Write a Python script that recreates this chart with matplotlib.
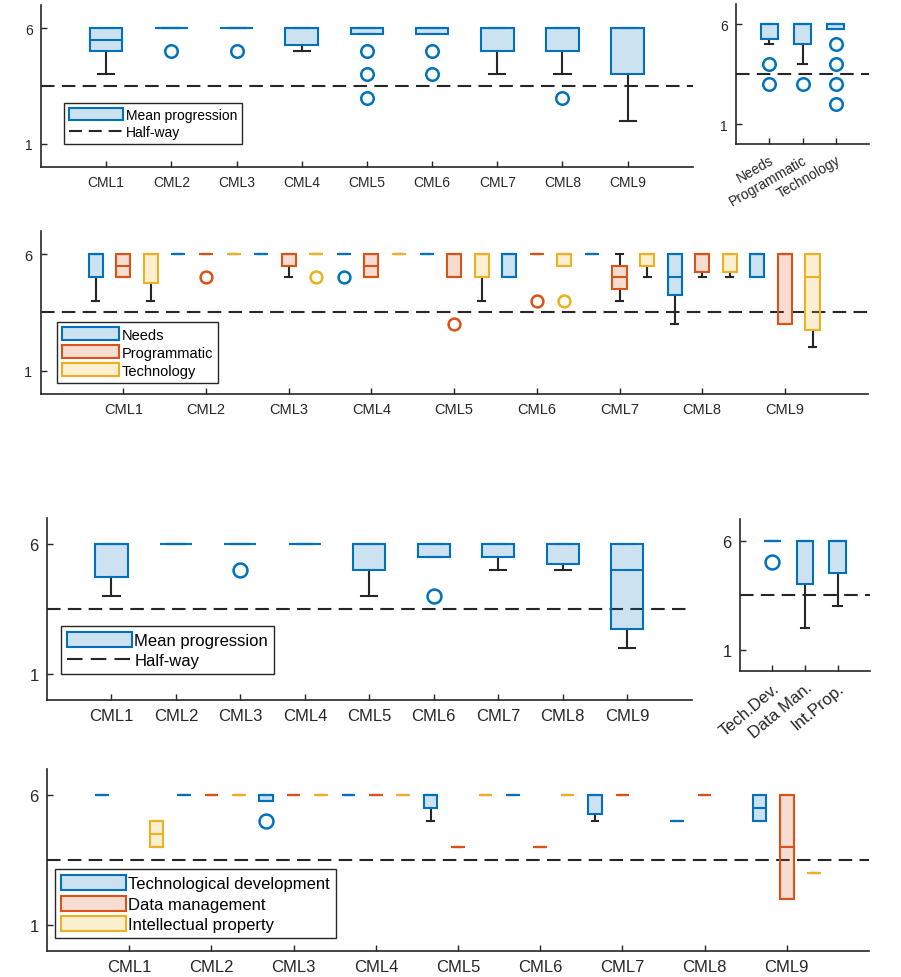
import matplotlib.pyplot as plt
from matplotlib.patches import Patch
from matplotlib.lines import Line2D
from matplotlib.colors import to_rgba

plt.rcParams['font.family'] = ['Liberation Sans', 'DejaVu Sans']

BLUE = '#0072BD'
RED = '#D95319'
YELLOW = '#EDB120'
INK = '#262626'

cml_labels = ['CML1', 'CML2', 'CML3', 'CML4', 'CML5', 'CML6', 'CML7', 'CML8', 'CML9']
area_labels_1 = ['Needs', 'Programmatic', 'Technology']
area_labels_2 = ['Tech.Dev.', 'Data Man.', 'Int.Prop.']
half_way = 3.5

# each box: (whisker low, q1, median, q3, whisker high, outliers); None = no box
mean_prog_1 = [
    (4, 5, 5.5, 6, 6, []),
    (6, 6, 6, 6, 6, [5]),
    (6, 6, 6, 6, 6, [5]),
    (5, 5.25, 6, 6, 6, []),
    (5.75, 5.75, 6, 6, 6, [5, 4, 3]),
    (5.75, 5.75, 6, 6, 6, [5, 4]),
    (4, 5, 6, 6, 6, []),
    (4, 5, 6, 6, 6, [3]),
    (2, 4, 6, 6, 6, []),
]
area_prog_1 = [
    (5, 5.25, 6, 6, 6, [4, 3]),
    (4, 5, 6, 6, 6, [3]),
    (5.75, 5.75, 6, 6, 6, [5, 4, 3, 2]),
]
needs = [
    (4, 5, 6, 6, 6, []),
    (6, 6, 6, 6, 6, []),
    (6, 6, 6, 6, 6, []),
    (6, 6, 6, 6, 6, [5]),
    (6, 6, 6, 6, 6, []),
    (5, 5, 6, 6, 6, []),
    (6, 6, 6, 6, 6, []),
    (3, 4.25, 5, 6, 6, []),
    (5, 5, 6, 6, 6, []),
]
programmatic = [
    (5, 5, 5.5, 6, 6, []),
    (6, 6, 6, 6, 6, [5]),
    (5, 5.5, 6, 6, 6, []),
    (5, 5, 5.5, 6, 6, []),
    (5, 5, 6, 6, 6, [3]),
    (6, 6, 6, 6, 6, [4]),
    (4, 4.5, 5, 5.5, 6, []),
    (5, 5.25, 6, 6, 6, []),
    (3, 3, 6, 6, 6, []),
]
technology = [
    (4, 4.75, 6, 6, 6, []),
    (6, 6, 6, 6, 6, []),
    (6, 6, 6, 6, 6, [5]),
    (6, 6, 6, 6, 6, []),
    (4, 5, 6, 6, 6, []),
    (5.5, 5.5, 6, 6, 6, [4]),
    (5, 5.5, 6, 6, 6, []),
    (5, 5.25, 6, 6, 6, []),
    (2, 2.75, 5, 6, 6, []),
]
mean_prog_2 = [
    (4, 4.75, 6, 6, 6, []),
    (6, 6, 6, 6, 6, []),
    (6, 6, 6, 6, 6, [5]),
    (6, 6, 6, 6, 6, []),
    (4, 5, 6, 6, 6, []),
    (5.5, 5.5, 6, 6, 6, [4]),
    (5, 5.5, 6, 6, 6, []),
    (5, 5.25, 6, 6, 6, []),
    (2, 2.75, 5, 6, 6, []),
]
area_prog_2 = [
    (6, 6, 6, 6, 6, [5]),
    (2, 4, 6, 6, 6, []),
    (3, 4.5, 6, 6, 6, []),
]
tech_dev = [
    (6, 6, 6, 6, 6, []),
    (6, 6, 6, 6, 6, []),
    (5.75, 5.75, 6, 6, 6, [5]),
    (6, 6, 6, 6, 6, []),
    (5, 5.5, 6, 6, 6, []),
    (6, 6, 6, 6, 6, []),
    (5, 5.25, 6, 6, 6, []),
    (5, 5, 5, 5, 5, []),
    (5, 5, 5.5, 6, 6, []),
]
data_man = [
    None,
    (6, 6, 6, 6, 6, []),
    (6, 6, 6, 6, 6, []),
    (6, 6, 6, 6, 6, []),
    (4, 4, 4, 4, 4, []),
    (4, 4, 4, 4, 4, []),
    (6, 6, 6, 6, 6, []),
    (6, 6, 6, 6, 6, []),
    (2, 2, 4, 6, 6, []),
]
int_prop = [
    (4, 4, 4.5, 5, 5, []),
    (6, 6, 6, 6, 6, []),
    (6, 6, 6, 6, 6, []),
    (6, 6, 6, 6, 6, []),
    (6, 6, 6, 6, 6, []),
    (6, 6, 6, 6, 6, []),
    None,
    None,
    (3, 3, 3, 3, 3, []),
]


def draw_boxes(ax, rows, offset, width, color, ms):
    stats, pos = [], []
    for i, r in enumerate(rows):
        if r is None:
            continue
        lo, q1, med, q3, hi, out = r
        stats.append(dict(whislo=lo, q1=q1, med=med, q3=q3, whishi=hi, fliers=out))
        pos.append(i + 1 + offset)
    ax.bxp(stats, positions=pos, widths=width, capwidths=width * 0.5,
           patch_artist=True, manage_ticks=False,
           boxprops=dict(facecolor=to_rgba(color, 0.2), edgecolor=color,
                         linewidth=1.5, zorder=3),
           medianprops=dict(color=color, linewidth=1.5, zorder=4),
           whiskerprops=dict(color=INK, linewidth=1.5, zorder=2),
           capprops=dict(color=INK, linewidth=1.5, zorder=2),
           flierprops=dict(marker='o', markerfacecolor='none', markeredgecolor=color,
                           markersize=ms, markeredgewidth=1.8, linestyle='none'))


def style_axes(ax, labels, fs, xmax, rot=0):
    ax.axhline(half_way, color=INK, lw=1.5, ls=(0, (6.5, 3.5)), zorder=1)
    ax.set_xlim(0, xmax)
    ax.set_ylim(0, 7)
    ax.set_yticks([1, 6])
    ax.set_xticks(range(1, len(labels) + 1))
    if rot:
        ax.set_xticklabels(labels, rotation=rot, ha='right', rotation_mode='anchor')
    else:
        ax.set_xticklabels(labels)
    for s in ['top', 'right']:
        ax.spines[s].set_visible(False)
    for s in ['left', 'bottom']:
        ax.spines[s].set_color(INK)
        ax.spines[s].set_linewidth(1.2)
    ax.tick_params(direction='in', length=4, width=1, color=INK, labelsize=fs,
                   labelcolor=INK, pad=6)


def add_legend(ax, names, colors, fs, anchor, with_line=False):
    handles = [Patch(facecolor=to_rgba(c, 0.2), edgecolor=c, linewidth=1.5)
               for c in colors]
    if with_line:
        # three dashes across the handle, like the MATLAB legend
        span = 3.9 * fs * 100 / 72 / (1.5 * 100 / 72) * 0.97
        gap = span * 0.13
        dash = (span - 2 * gap) / 3
        handles.append(Line2D([], [], color=INK, lw=1.5, ls=(0, (dash, gap))))
    leg = ax.legend(handles, names, loc='lower left', bbox_to_anchor=anchor,
                    fontsize=fs, handlelength=3.9, handleheight=1.0, handletextpad=0.15,
                    labelspacing=0.25, borderpad=0.35, borderaxespad=0,
                    fancybox=False, framealpha=1, edgecolor=INK)
    leg.get_frame().set_linewidth(1.0)
    leg.set_zorder(5)


fig = plt.figure(figsize=(9.01, 9.78), dpi=100)

# panel 1: mean progression per CML
ax1 = fig.add_axes([0.0455, 0.8282, 0.7235, 0.1658])
draw_boxes(ax1, mean_prog_1, 0, 0.5, BLUE, 9)
style_axes(ax1, cml_labels, 10, 10)
add_legend(ax1, ['Mean progression', 'Half-way'], [BLUE], 10, (0.036, 0.14), True)

# panel 1 right: per area
ax1r = fig.add_axes([0.8169, 0.8517, 0.1476, 0.1431])
draw_boxes(ax1r, area_prog_1, 0, 0.5, BLUE, 9)
style_axes(ax1r, area_labels_1, 10, 4, rot=30)

# panel 2: needs / programmatic / technology
ax2 = fig.add_axes([0.045, 0.5961, 0.918, 0.167])
draw_boxes(ax2, needs, -1 / 3, 0.17, BLUE, 8.5)
draw_boxes(ax2, programmatic, 0, 0.17, RED, 8.5)
draw_boxes(ax2, technology, 1 / 3, 0.17, YELLOW, 8.5)
style_axes(ax2, cml_labels, 10.5, 10)
add_legend(ax2, ['Needs', 'Programmatic', 'Technology'], [BLUE, RED, YELLOW],
           10.5, (0.02, 0.067))

# panel 3: mean progression per CML (second set)
ax3 = fig.add_axes([0.0522, 0.2832, 0.7153, 0.1861])
draw_boxes(ax3, mean_prog_2, 0, 0.5, BLUE, 10)
style_axes(ax3, cml_labels, 12, 10)
add_legend(ax3, ['Mean progression', 'Half-way'], [BLUE], 12, (0.0217, 0.143), True)

# panel 3 right: per area
ax3r = fig.add_axes([0.8213, 0.3124, 0.1443, 0.156])
draw_boxes(ax3r, area_prog_2, 0, 0.5, BLUE, 10)
style_axes(ax3r, area_labels_2, 12, 4, rot=40)

# panel 4: tech dev / data management / IP
ax4 = fig.add_axes([0.0522, 0.0269, 0.9123, 0.1861])
draw_boxes(ax4, tech_dev, -1 / 3, 0.165, BLUE, 10)
draw_boxes(ax4, data_man, 0, 0.165, RED, 10)
draw_boxes(ax4, int_prop, 1 / 3, 0.165, YELLOW, 10)
style_axes(ax4, cml_labels, 12, 10)
add_legend(ax4, ['Technological development', 'Data management', 'Intellectual property'],
           [BLUE, RED, YELLOW], 12, (0.0097, 0.07))

fig.savefig('out.png', dpi=100)
